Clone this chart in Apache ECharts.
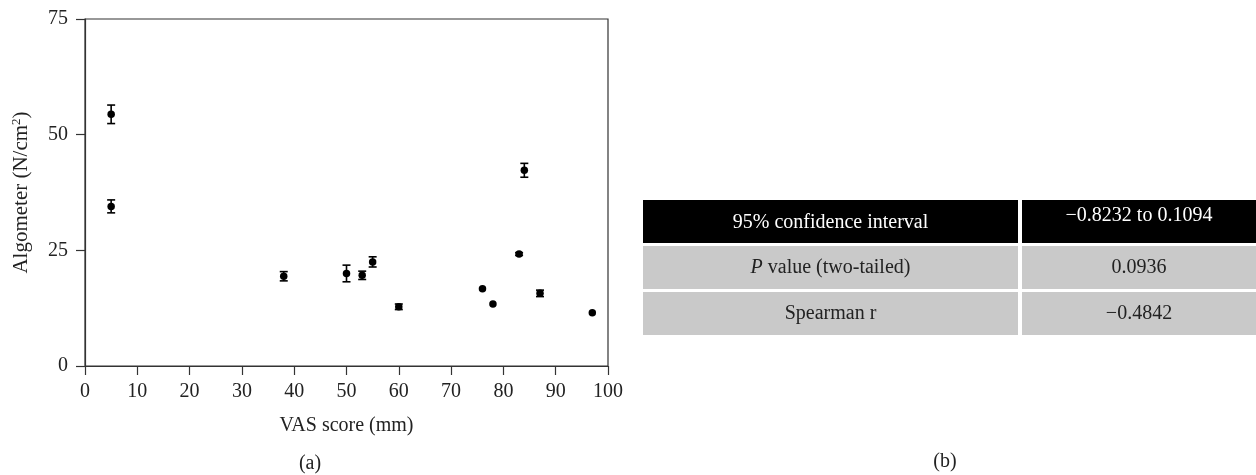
<!DOCTYPE html>
<html>
<head>
<meta charset="utf-8">
<script src="https://cdn.jsdelivr.net/npm/echarts@6/dist/echarts.min.js"></script>
<style>html,body{margin:0;padding:0;background:#fff}#c{width:1256px;height:475px}</style>
</head>
<body>
<div id="c"></div>
<script>
// VAS score (mm)
var vas = [5, 5, 38, 50, 53, 55, 60, 76, 78, 83, 84, 87, 97];
// Algometer mean (N/cm2)
var algo = [54.4, 34.5, 19.4, 20.0, 19.6, 22.5, 12.8, 16.7, 13.4, 24.2, 42.3, 15.7, 11.5];
// Error (+/-) half-width
var err = [2.0, 1.4, 1.0, 1.8, 0.9, 1.1, 0.6, 0, 0, 0.3, 1.5, 0.7, 0];
var xTicks = [0, 10, 20, 30, 40, 50, 60, 70, 80, 90, 100];
var yTicks = [0, 25, 50, 75];
// Table
var tableLabels = ['95% confidence interval', '{i|P} value (two-tailed)', 'Spearman r'];
var tableValues = ['\u22120.8232 to 0.1094', '0.0936', '\u22120.4842'];

var FONT = '"Liberation Serif", "DejaVu Serif", serif';
var FS = 20;
var pts = vas.map(function (v, i) { return [v, algo[i]]; });
var bars = vas.map(function (v, i) { return [v, algo[i] - err[i], algo[i] + err[i]]; }).filter(function (d, i) { return err[i] > 0; });

var tblLeft = 643, tblRight = 1256, colEnd1 = 1018, colStart2 = 1022;
var rowTops = [200, 246, 292], rowH = 43;
var graphics = [];
for (var r = 0; r < 3; r++) {
  var fill = r === 0 ? '#000' : '#c9c9c9';
  var tc = r === 0 ? '#fff' : '#222';
  graphics.push({ type: 'rect', left: tblLeft, top: rowTops[r], shape: { width: colEnd1 - tblLeft, height: rowH }, style: { fill: fill } });
  graphics.push({ type: 'rect', left: colStart2, top: rowTops[r], shape: { width: tblRight - colStart2, height: rowH }, style: { fill: fill } });
  graphics.push({ type: 'text', x: (tblLeft + colEnd1) / 2, y: rowTops[r] + rowH / 2 + (r === 0 ? 1 : 0),
    style: { text: tableLabels[r], fill: tc, font: FS + 'px ' + FONT, align: 'center', verticalAlign: 'middle',
      rich: { i: { fontStyle: 'italic', fontFamily: FONT, fontSize: FS, fill: tc } } } });
  graphics.push({ type: 'text', x: (colStart2 + tblRight) / 2, y: rowTops[r] + rowH / 2 - (r === 0 ? 6 : 0),
    style: { text: tableValues[r], fill: tc, font: FS + 'px ' + FONT, align: 'center', verticalAlign: 'middle' } });
}
graphics.push({ type: 'text', x: 310, y: 464, style: { text: '(a)', fill: '#222', font: FS + 'px ' + FONT, align: 'center', verticalAlign: 'middle' } });
graphics.push({ type: 'text', x: 945, y: 462, style: { text: '(b)', fill: '#222', font: FS + 'px ' + FONT, align: 'center', verticalAlign: 'middle' } });

var chart = echarts.init(document.getElementById('c'), null, { renderer: 'canvas' });
chart.setOption({
  animation: false,
  backgroundColor: '#fff',
  grid: { left: 85, right: 648, top: 19, bottom: 109, show: true, borderColor: '#333', borderWidth: 1.2, backgroundColor: 'transparent' },
  xAxis: {
    type: 'value', min: 0, max: 100, interval: 10,
    name: 'VAS score (mm)', nameLocation: 'middle', nameGap: 50,
    nameTextStyle: { fontFamily: FONT, fontSize: FS, color: '#222' },
    axisLine: { show: true, lineStyle: { color: '#333', width: 1.2 } },
    axisTick: { show: true, length: 9, lineStyle: { color: '#333', width: 1.2 } },
    axisLabel: { fontFamily: FONT, fontSize: FS, color: '#222', margin: 16 },
    splitLine: { show: false }
  },
  yAxis: {
    type: 'value', min: 0, max: 75, interval: 25,
    name: 'Algometer (N/cm{sup|2})', nameLocation: 'middle', nameGap: 52,
    nameTextStyle: { fontFamily: FONT, fontSize: FS + 1, color: '#222',
      rich: { sup: { fontFamily: FONT, fontSize: 13, color: '#222', verticalAlign: 'top', padding: [0, 0, 10, 0] } } },
    axisLine: { show: true, lineStyle: { color: '#333', width: 1.2 } },
    axisTick: { show: true, length: 9, lineStyle: { color: '#333', width: 1.2 } },
    axisLabel: { fontFamily: FONT, fontSize: FS, color: '#222', margin: 17 },
    splitLine: { show: false }
  },
  graphic: graphics,
  series: [
    {
      type: 'custom',
      data: bars,
      renderItem: function (params, api) {
        var x = api.value(0);
        var lo = api.coord([x, api.value(1)]);
        var hi = api.coord([x, api.value(2)]);
        var w = 4;
        var st = { stroke: '#000', lineWidth: 1.6 };
        return {
          type: 'group',
          children: [
            { type: 'line', shape: { x1: hi[0], y1: hi[1], x2: lo[0], y2: lo[1] }, style: st },
            { type: 'line', shape: { x1: hi[0] - w, y1: hi[1], x2: hi[0] + w, y2: hi[1] }, style: st },
            { type: 'line', shape: { x1: lo[0] - w, y1: lo[1], x2: lo[0] + w, y2: lo[1] }, style: st }
          ]
        };
      },
      z: 2
    },
    {
      type: 'scatter',
      data: pts,
      symbol: 'circle',
      symbolSize: 7.5,
      itemStyle: { color: '#000', opacity: 1 },
      z: 3
    }
  ]
});
</script>
</body>
</html>
